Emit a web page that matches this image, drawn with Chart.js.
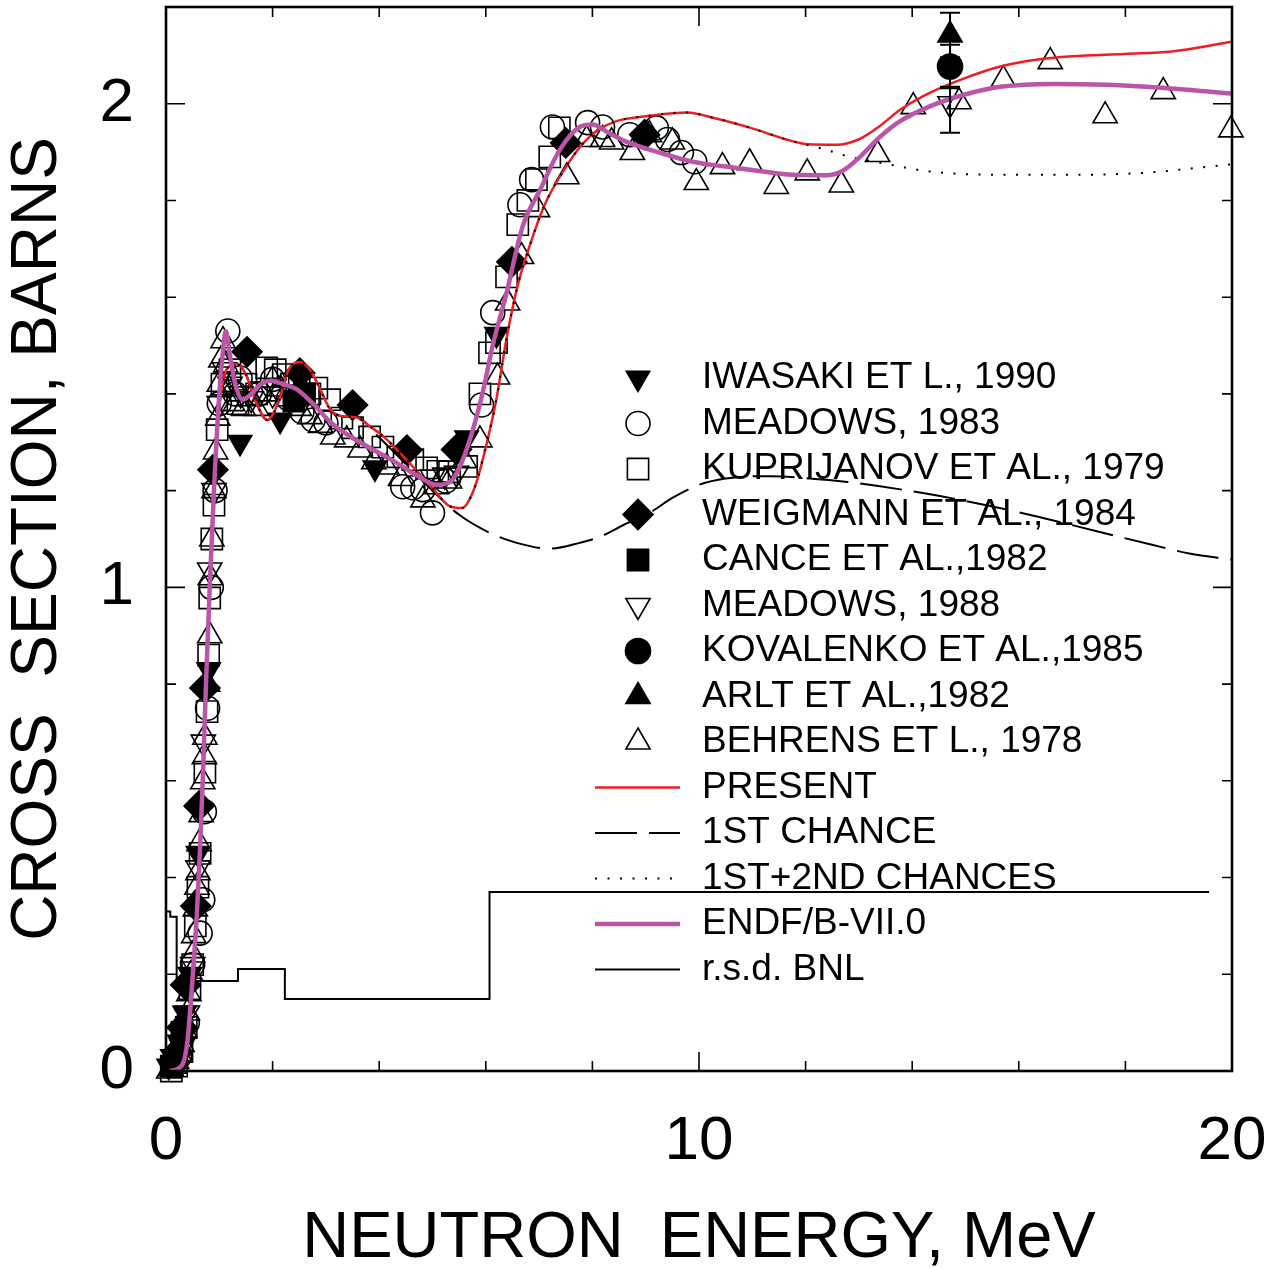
<!DOCTYPE html>
<html>
<head>
<meta charset="utf-8">
<script src="https://cdn.jsdelivr.net/npm/chart.js@4.4.1/dist/chart.umd.min.js"></script>
<style>
    body { margin: 0; background: #fff; }
    #caixa { width: 1285px; height: 1268px; }
</style>
</head>
<body>
<div id="caixa"><canvas id="grafico" width="1285" height="1268"></canvas></div>
<script>
// valores: [energia MeV, secao de choque barns]
let present = [[0.1,0.0],[0.3,0.01],[0.4,0.05],[0.5,0.17],[0.58,0.32],[0.64,0.46],[0.7,0.62],[0.76,0.82],[0.82,1.0],[0.9,1.2],[1.0,1.37],[1.1,1.44],[1.2,1.458],[1.33,1.462],[1.5,1.44],[1.7,1.38],[1.9,1.346],[2.1,1.38],[2.3,1.45],[2.5,1.466],[2.7,1.45],[2.9,1.408],[3.07,1.37],[3.3,1.354],[3.55,1.352],[3.8,1.335],[4.1,1.31],[4.5,1.265],[5.0,1.205],[5.32,1.168],[5.55,1.164],[5.79,1.206],[6.0,1.29],[6.2,1.39],[6.39,1.515],[6.6,1.625],[6.82,1.705],[7.1,1.79],[7.45,1.86],[7.8,1.915],[8.1,1.945],[8.45,1.964],[9.07,1.975],[9.77,1.982],[10.3,1.97],[10.97,1.95],[11.64,1.926],[12.05,1.916],[12.58,1.915],[12.99,1.926],[13.38,1.953],[13.78,1.988],[14.32,2.022],[14.99,2.053],[15.65,2.077],[16.33,2.091],[17.0,2.098],[17.99,2.103],[18.87,2.108],[20.0,2.128]]
let primeira = [[0.1,0.0],[0.3,0.01],[0.4,0.05],[0.5,0.17],[0.58,0.32],[0.64,0.46],[0.7,0.62],[0.76,0.82],[0.82,1.0],[0.9,1.2],[1.0,1.37],[1.1,1.44],[1.2,1.458],[1.33,1.462],[1.5,1.44],[1.7,1.38],[1.9,1.346],[2.1,1.38],[2.3,1.45],[2.5,1.466],[2.7,1.45],[2.9,1.408],[3.07,1.37],[3.3,1.354],[3.58,1.352],[4.0,1.31],[4.5,1.255],[5.0,1.2],[5.5,1.15],[6.07,1.113],[6.58,1.092],[7.2,1.08],[7.76,1.092],[8.13,1.104],[8.6,1.13],[9.07,1.154],[9.5,1.185],[10.0,1.212],[10.5,1.225],[11.34,1.23],[12.0,1.226],[12.78,1.218],[14.2,1.195],[15.3,1.172],[16.36,1.146],[17.5,1.115],[18.5,1.088],[19.2,1.07],[20.0,1.057]]
let segunda = [[0.1,0.0],[0.3,0.01],[0.4,0.05],[0.5,0.17],[0.58,0.32],[0.64,0.46],[0.7,0.62],[0.76,0.82],[0.82,1.0],[0.9,1.2],[1.0,1.37],[1.1,1.44],[1.2,1.458],[1.33,1.462],[1.5,1.44],[1.7,1.38],[1.9,1.346],[2.1,1.38],[2.3,1.45],[2.5,1.466],[2.7,1.45],[2.9,1.408],[3.07,1.37],[3.3,1.354],[3.55,1.352],[3.8,1.335],[4.1,1.31],[4.5,1.265],[5.0,1.205],[5.32,1.168],[5.55,1.164],[5.79,1.206],[6.0,1.29],[6.2,1.39],[6.39,1.515],[6.6,1.625],[6.82,1.705],[7.1,1.79],[7.45,1.86],[7.8,1.915],[8.1,1.945],[8.45,1.964],[9.07,1.975],[9.77,1.982],[10.3,1.97],[10.97,1.95],[11.64,1.926],[12.05,1.914],[12.31,1.907],[12.84,1.89],[13.59,1.874],[14.32,1.86],[15.65,1.853],[17.0,1.853],[18.33,1.857],[19.74,1.872],[20.0,1.875]]
let endf = [[0.07,0.0],[0.3,0.012],[0.4,0.06],[0.49,0.18],[0.58,0.327],[0.64,0.463],[0.69,0.602],[0.75,0.8],[0.82,1.0],[0.9,1.2],[1.0,1.4],[1.07,1.49],[1.12,1.53],[1.2,1.48],[1.3,1.42],[1.44,1.388],[1.6,1.40],[1.8,1.422],[1.98,1.427],[2.2,1.42],[2.45,1.41],[2.8,1.375],[3.1,1.34],[3.64,1.3],[4.26,1.262],[4.7,1.232],[5.08,1.212],[5.35,1.22],[5.51,1.249],[5.7,1.305],[5.94,1.402],[6.13,1.5],[6.39,1.609],[6.69,1.746],[7.01,1.82],[7.39,1.905],[7.76,1.952],[8.0,1.957],[8.3,1.94],[8.64,1.921],[9.26,1.899],[9.88,1.88],[10.5,1.87],[11.13,1.861],[11.75,1.853],[12.39,1.852],[12.69,1.861],[13.0,1.888],[13.38,1.93],[13.76,1.963],[14.32,1.994],[14.99,2.019],[15.65,2.035],[16.66,2.041],[17.67,2.039],[18.67,2.033],[20.0,2.021]]
let rsdBnl = [[0.0,0.33],[0.08,0.319],[0.2,0.186],[1.35,0.211],[2.23,0.149],[6.07,0.37],[19.57,0.37]]

let iwasaki = [[0.05,0.01],[0.12,0.03],[0.25,0.06],[0.35,0.12],[0.45,0.2],[0.6,0.45],[0.8,0.83],[1.39,1.30],[2.14,1.346],[3.92,1.247],[5.64,1.309],[6.2,1.523]]
let meadows83 = [[0.25,0.03],[0.4,0.1],[0.5,0.22],[0.64,0.285],[0.69,0.354],[0.72,0.536],[0.78,0.75],[0.85,1.0],[0.92,1.2],[1.0,1.38],[1.16,1.53],[1.3,1.40],[1.39,1.433],[1.75,1.40],[2.0,1.43],[2.3,1.39],[2.55,1.363],[2.76,1.346],[3.0,1.34],[4.44,1.208],[4.63,1.206],[4.82,1.202],[5.0,1.154],[5.25,1.22],[5.92,1.377],[6.13,1.568],[6.64,1.791],[6.86,1.843],[7.25,1.952],[7.91,1.961],[8.19,1.952],[8.7,1.936],[9.2,1.95],[9.41,1.926],[9.67,1.899],[9.92,1.88]]
let kuprijanov = [[0.1,0.0],[0.2,0.01],[0.3,0.04],[0.38,0.09],[0.45,0.17],[0.5,0.22],[0.55,0.3],[0.6,0.38],[0.64,0.45],[0.73,0.618],[0.77,0.743],[0.8,0.86],[0.82,0.978],[0.86,1.1],[0.9,1.17],[0.96,1.326],[1.05,1.42],[1.2,1.45],[1.35,1.38],[1.5,1.42],[1.7,1.40],[1.89,1.454],[2.05,1.45],[2.2,1.44],[2.35,1.42],[2.5,1.43],[2.7,1.40],[2.83,1.412],[3.07,1.388],[3.3,1.35],[3.5,1.33],[3.82,1.311],[4.07,1.29],[4.35,1.27],[4.63,1.264],[4.89,1.247],[5.1,1.24],[5.32,1.239],[5.64,1.25],[5.89,1.40],[6.07,1.485],[6.2,1.506],[6.39,1.642],[6.6,1.75],[6.79,1.80],[6.95,1.843],[7.2,1.89],[7.38,1.95]]
let weigmann = [[0.15,0.02],[0.22,0.04],[0.3,0.09],[0.37,0.178],[0.56,0.341],[0.62,0.548],[0.73,0.792],[0.88,1.243],[1.52,1.487],[2.51,1.443],[3.5,1.377],[4.52,1.284],[5.45,1.285],[6.49,1.673],[7.5,1.919],[8.98,1.936]]
let cance = [[0.1,0.01],[0.3,0.08],[2.4,1.385],[2.6,1.40]]
let meadows88 = [[0.2,0.02],[0.3,0.05],[0.4,0.12],[0.5,0.22],[0.6,0.42],[0.7,0.68],[0.82,1.036],[0.9,1.2],[1.0,1.38],[1.1,1.45],[1.2,1.42],[1.4,1.40],[1.6,1.39],[1.8,1.41],[2.0,1.40],[5.0,1.228],[5.23,1.232],[5.45,1.236],[14.71,2.0]]
let kovalenko = [[14.71,2.077]]
let arlt = [[14.71,2.142]]
let behrens = [[0.05,0.0],[0.1,0.005],[0.15,0.01],[0.2,0.02],[0.25,0.035],[0.3,0.055],[0.35,0.085],[0.4,0.12],[0.43,0.16],[0.47,0.2],[0.5,0.24],[0.52,0.28],[0.55,0.335],[0.58,0.38],[0.6,0.41],[0.62,0.47],[0.66,0.53],[0.69,0.598],[0.72,0.65],[0.73,0.69],[0.78,0.8],[0.82,0.9],[0.83,1.02],[0.86,1.1],[0.9,1.2],[0.93,1.28],[0.97,1.35],[1.0,1.42],[1.03,1.47],[1.07,1.51],[1.12,1.46],[1.18,1.41],[1.25,1.38],[1.35,1.40],[1.45,1.37],[1.55,1.39],[1.7,1.37],[1.85,1.40],[2.0,1.429],[2.15,1.41],[2.3,1.39],[2.5,1.37],[2.7,1.353],[2.9,1.335],[3.13,1.311],[3.39,1.305],[3.64,1.284],[3.9,1.26],[4.14,1.249],[4.4,1.225],[4.82,1.181],[5.08,1.208],[5.32,1.22],[5.6,1.262],[5.89,1.305],[6.22,1.435],[6.41,1.588],[6.67,1.684],[6.97,1.781],[7.52,1.849],[7.89,1.926],[8.19,1.926],[8.36,1.921],[8.75,1.899],[9.07,1.936],[9.5,1.921],[9.95,1.837],[10.44,1.87],[10.95,1.878],[11.45,1.829],[12.03,1.857],[12.67,1.832],[13.35,1.895],[14.02,1.994],[14.88,2.004],[15.71,2.05],[16.59,2.087],[17.62,1.975],[18.71,2.025],[19.98,1.946]]

// barras de erro em 14.7 MeV (arlt, kovalenko, meadows 1988)
let erroE = [14.71, 14.71, 14.71]
let erroBaixo = [2.096, 2.032, 1.94]
let erroAlto = [2.188, 2.122, 2.035]

// marcas dos eixos
let xMarcas = [0, 2, 4, 6, 8, 10, 12, 14, 16, 18, 20]
let xRotulos = [0, 10, 20]
let yMarcas = [0, 0.2, 0.4, 0.6, 0.8, 1, 1.2, 1.4, 1.6, 1.8, 2, 2.2]
let yRotulos = [0, 1, 2]

let nomes = ['IWASAKI ET L., 1990', 'MEADOWS, 1983', 'KUPRIJANOV ET AL., 1979', 'WEIGMANN ET AL., 1984',
    'CANCE ET AL.,1982', 'MEADOWS, 1988', 'KOVALENKO ET AL.,1985', 'ARLT ET AL.,1982', 'BEHRENS ET L., 1978',
    'PRESENT', '1ST CHANCE', '1ST+2ND CHANCES', 'ENDF/B-VII.0', 'r.s.d. BNL']

const fonte = '"Liberation Sans", Arial, sans-serif'
const vazio = 'rgba(0,0,0,0)'
const pontos = (lista) => lista.map(p => ({ x: p[0], y: p[1] }))

function linha(label, dados, cor, largura, tracejado, extra) {
    return Object.assign({
        label: label,
        data: pontos(dados),
        showLine: true,
        borderColor: cor,
        borderWidth: largura,
        borderDash: tracejado,
        pointRadius: 0,
        cubicInterpolationMode: 'monotone',
        fill: false
    }, extra || {})
}

function marcador(label, dados, estilo, rot, cheio, raio) {
    return {
        label: label,
        data: pontos(dados),
        showLine: false,
        pointStyle: estilo,
        pointRotation: rot,
        pointRadius: raio,
        pointBackgroundColor: cheio ? '#000' : vazio,
        pointBorderColor: '#000',
        pointBorderWidth: 1.6,
        clip: false
    }
}

let datasets = [
    linha(nomes[12], endf, 'rgb(187,85,167)', 4.5, []),
    linha(nomes[11], segunda, '#000', 2, [2, 10.5]),
    linha(nomes[9], present, 'rgb(236,30,36)', 2.5, []),
    linha(nomes[10], primeira, '#000', 2, [42, 12]),
    linha(nomes[13], rsdBnl, '#000', 2, [], { stepped: 'before', cubicInterpolationMode: 'default' }),
    marcador(nomes[7], arlt, 'triangle', 0, true, 14),
    marcador(nomes[6], kovalenko, 'circle', 0, true, 12.5),
    marcador(nomes[5], meadows88, 'triangle', 180, false, 14),
    marcador(nomes[0], iwasaki, 'triangle', 180, true, 13.5),
    marcador(nomes[3], weigmann, 'rectRot', 0, true, 15),
    marcador(nomes[4], cance, 'rect', 0, true, 15),
    marcador(nomes[1], meadows83, 'circle', 0, false, 12),
    marcador(nomes[2], kuprijanov, 'rect', 0, false, 15),
    marcador(nomes[8], behrens, 'triangle', 0, false, 14)
]

// moldura com as marcas para dentro nos quatro lados
const moldura = {
    id: 'moldura',
    afterDraw(chart) {
        const { ctx, chartArea: a, scales: { x, y } } = chart
        ctx.save()
        ctx.strokeStyle = '#000'
        ctx.lineWidth = 1.6
        ctx.beginPath()
        xMarcas.forEach(v => {
            const px = x.getPixelForValue(v)
            const t = xRotulos.includes(v) ? 19 : 10
            ctx.moveTo(px, a.bottom); ctx.lineTo(px, a.bottom - t)
            ctx.moveTo(px, a.top); ctx.lineTo(px, a.top + t)
        })
        yMarcas.forEach(v => {
            const py = y.getPixelForValue(v)
            const t = yRotulos.includes(v) ? 19 : 10
            ctx.moveTo(a.left, py); ctx.lineTo(a.left + t, py)
            ctx.moveTo(a.right, py); ctx.lineTo(a.right - t, py)
        })
        ctx.stroke()
        ctx.lineWidth = 2.6
        ctx.strokeRect(a.left, a.top, a.right - a.left, a.bottom - a.top)
        ctx.restore()
    }
}

const barras = {
    id: 'barras',
    afterDatasetsDraw(chart) {
        const { ctx, scales: { x, y } } = chart
        ctx.save()
        ctx.strokeStyle = '#000'
        ctx.lineWidth = 2
        for (let i = 0; i < erroE.length; i++) {
            const px = x.getPixelForValue(erroE[i])
            const p1 = y.getPixelForValue(erroBaixo[i])
            const p2 = y.getPixelForValue(erroAlto[i])
            ctx.beginPath()
            ctx.moveTo(px, p1); ctx.lineTo(px, p2)
            ctx.moveTo(px - 10, p1); ctx.lineTo(px + 10, p1)
            ctx.moveTo(px - 10, p2); ctx.lineTo(px + 10, p2)
            ctx.stroke()
        }
        ctx.restore()
    }
}

const legenda = {
    id: 'legenda',
    afterDraw(chart) {
        const ctx = chart.ctx
        ctx.save()
        ctx.font = '37px ' + fonte
        ctx.textBaseline = 'middle'
        nomes.forEach((nome, i) => {
            const ds = chart.data.datasets.find(d => d.label === nome)
            const yy = 378 + i * 45.5
            if (ds.showLine) {
                ctx.strokeStyle = ds.borderColor
                ctx.lineWidth = ds.borderWidth
                ctx.setLineDash(ds.borderDash || [])
                ctx.beginPath()
                ctx.moveTo(595, yy)
                ctx.lineTo(680, yy)
                ctx.stroke()
                ctx.setLineDash([])
            } else {
                ctx.fillStyle = ds.pointBackgroundColor
                ctx.strokeStyle = ds.pointBorderColor
                ctx.lineWidth = ds.pointBorderWidth
                if (Chart.helpers && Chart.helpers.drawPoint) {
                    Chart.helpers.drawPoint(ctx, { pointStyle: ds.pointStyle, rotation: ds.pointRotation, radius: ds.pointRadius, borderWidth: ds.pointBorderWidth }, 638, yy)
                } else {
                    ctx.beginPath(); ctx.arc(638, yy, ds.pointRadius, 0, Math.PI * 2); ctx.fill(); ctx.stroke()
                }
            }
            ctx.fillStyle = '#000'
            ctx.fillText(nome, 702, yy)
        })
        ctx.restore()
    }
}

let ctx = document.getElementById('grafico').getContext('2d')
new Chart(ctx, {
    type: 'scatter',
    data: { datasets: datasets },
    plugins: [barras, moldura, legenda],
    options: {
        responsive: false,
        devicePixelRatio: 1,
        animation: false,
        layout: { autoPadding: false, padding: { top: 7, right: 53, left: 0, bottom: 0 } },
        plugins: { legend: { display: false }, tooltip: { enabled: false } },
        scales: {
            x: {
                type: 'linear', min: 0, max: 20,
                grid: { display: false }, border: { display: false },
                afterBuildTicks: (s) => { s.ticks = xRotulos.map(v => ({ value: v })) },
                afterFit: (s) => { s.height = 197; s.paddingLeft = 0; s.paddingRight = 0 },
                ticks: { color: '#000', padding: 32, font: { family: fonte, size: 62, lineHeight: 1 }, maxRotation: 0, callback: (v) => String(v) },
                title: { display: true, text: 'NEUTRON  ENERGY, MeV', color: '#000', padding: { top: 0, bottom: 0 }, font: { family: fonte, size: 65, lineHeight: 0.9 } }
            },
            y: {
                type: 'linear', min: 0, max: 2.2,
                grid: { display: false }, border: { display: false },
                afterBuildTicks: (s) => { s.ticks = yRotulos.map(v => ({ value: v })) },
                afterFit: (s) => { s.width = 166; s.paddingTop = 0; s.paddingBottom = 0 },
                ticks: { color: '#000', padding: 24, font: { family: fonte, size: 62, lineHeight: 1 }, callback: (v) => String(v) },
                title: { display: true, text: 'CROSS  SECTION, BARNS', color: '#000', padding: { top: 6, bottom: 0 }, font: { family: fonte, size: 64, lineHeight: 1 } }
            }
        }
    }
})
</script>
</body>
</html>
